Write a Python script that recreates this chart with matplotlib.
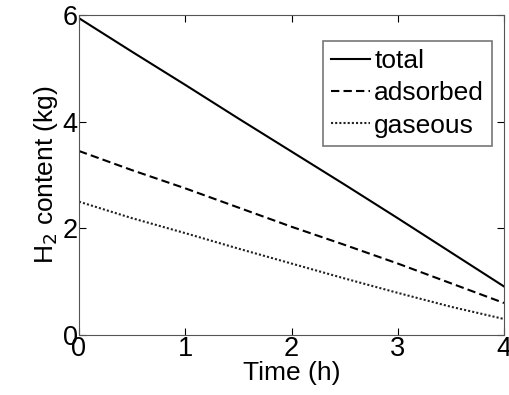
import matplotlib
matplotlib.use('Agg')
import matplotlib.pyplot as plt

plt.rcParams['font.family'] = ['Liberation Sans', 'DejaVu Sans']

# values
time_h = [0, 0.5, 1, 1.5, 2, 2.5, 3, 3.5, 4]
total = [5.94, 5.31, 4.69, 4.06, 3.44, 2.82, 2.19, 1.55, 0.91]
adsorbed = [3.45, 3.09, 2.75, 2.39, 2.03, 1.69, 1.34, 0.97, 0.60]
gaseous = [2.50, 2.19, 1.91, 1.62, 1.34, 1.06, 0.79, 0.53, 0.30]

fig = plt.figure(figsize=(5.09, 3.95), dpi=100)
ax = fig.add_axes([79 / 509, 60 / 395, 425 / 509, 320 / 395])

ax.plot(time_h, total, color='black', linestyle='-', linewidth=1.5, label='total')
ax.plot(time_h, adsorbed, color='black', linestyle=(0, (4, 2)), linewidth=1.5, label='adsorbed')
ax.plot(time_h, gaseous, color='#222222', linestyle=(0, (1, 1)), linewidth=1.5, label='gaseous')

ax.set_xlim(0, 4)
ax.set_ylim(0, 6)
ax.set_xticks([0, 1, 2, 3, 4])
ax.set_yticks([0, 2, 4, 6])
ax.tick_params(direction='in', top=True, right=True, labelsize=19.5, length=5, pad=1)
for s in ax.spines.values():
    s.set_color('#555555')

ax.set_xlabel('Time (h)', fontsize=19, labelpad=-1)
ax.set_ylabel('H$_2$ content (kg)', fontsize=19, labelpad=2)

leg = ax.legend(loc='upper right', bbox_to_anchor=(0.972, 0.919), borderaxespad=0, fontsize=19,
                handlelength=1.5, handletextpad=0.15, borderpad=0.3, labelspacing=0.32,
                fancybox=False, framealpha=1)
leg.get_frame().set_edgecolor('#777777')
leg.get_frame().set_linewidth(1.2)

fig.savefig('out.png', dpi=100)
